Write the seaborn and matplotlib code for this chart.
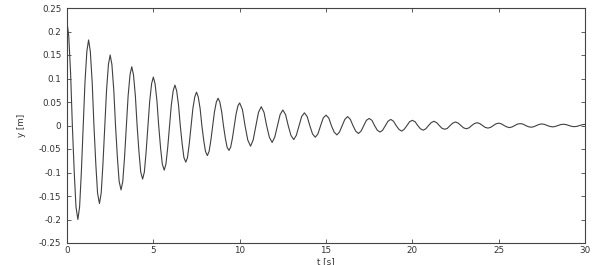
import matplotlib
matplotlib.use("Agg")
import matplotlib.pyplot as plt
import seaborn as sns
import pandas as pd

# time samples [s]
t_early = [
    0.00, 0.10, 0.21, 0.31, 0.42, 0.52,
    0.63, 0.73, 0.83, 0.94, 1.04, 1.15,
    1.25, 1.35, 1.46, 1.56, 1.67, 1.77,
    1.88, 1.98, 2.08, 2.19, 2.29, 2.40,
    2.50, 2.60, 2.71, 2.81, 2.92, 3.02,
    3.13, 3.23, 3.33, 3.44, 3.54, 3.65,
    3.75, 3.85, 3.96, 4.06, 4.17, 4.27,
    4.38, 4.48, 4.58, 4.69, 4.79, 4.90,
    5.00, 5.10, 5.21, 5.31, 5.42, 5.52,
    5.63, 5.73, 5.83, 5.94, 6.04, 6.15,
    6.25, 6.35, 6.46, 6.56, 6.67, 6.77,
    6.88, 6.98, 7.08, 7.19, 7.29, 7.40,
    7.50, 7.60, 7.71, 7.81, 7.92, 8.02,
    8.13, 8.23, 8.33, 8.44, 8.54, 8.65,
    8.75, 8.85, 8.96, 9.06, 9.17, 9.27,
    9.38, 9.48, 9.58, 9.69, 9.79, 9.90,
]
y_early = [
    0.220, 0.191, 0.110, 0.0, -0.100, -0.173,
    -0.200, -0.173, -0.100, 0.0, 0.091, 0.158,
    0.182, 0.158, 0.091, 0.0, -0.083, -0.144,
    -0.166, -0.144, -0.083, 0.0, 0.075, 0.130,
    0.150, 0.130, 0.075, 0.0, -0.069, -0.119,
    -0.137, -0.119, -0.069, 0.0, 0.063, 0.108,
    0.125, 0.108, 0.063, 0.0, -0.057, -0.099,
    -0.114, -0.099, -0.057, 0.0, 0.052, 0.089,
    0.103, 0.089, 0.052, 0.0, -0.048, -0.082,
    -0.095, -0.082, -0.048, 0.0, 0.043, 0.074,
    0.086, 0.074, 0.043, 0.0, -0.039, -0.068,
    -0.078, -0.068, -0.039, 0.0, 0.036, 0.061,
    0.071, 0.061, 0.036, 0.0, -0.032, -0.055,
    -0.064, -0.055, -0.032, 0.0, 0.029, 0.050,
    0.058, 0.050, 0.029, 0.0, -0.027, -0.046,
    -0.053, -0.046, -0.027, 0.0, 0.024, 0.042,
]
t_late = [
    10.00, 10.16, 10.31, 10.47,
    10.63, 10.78, 10.94, 11.09,
    11.25, 11.41, 11.56, 11.72,
    11.88, 12.03, 12.19, 12.34,
    12.50, 12.66, 12.81, 12.97,
    13.13, 13.28, 13.44, 13.59,
    13.75, 13.91, 14.06, 14.22,
    14.38, 14.53, 14.69, 14.84,
    15.00, 15.16, 15.31, 15.47,
    15.63, 15.78, 15.94, 16.09,
    16.25, 16.41, 16.56, 16.72,
    16.88, 17.03, 17.19, 17.34,
    17.50, 17.66, 17.81, 17.97,
    18.13, 18.28, 18.44, 18.59,
    18.75, 18.91, 19.06, 19.22,
    19.38, 19.53, 19.69, 19.84,
    20.00, 20.16, 20.31, 20.47,
    20.63, 20.78, 20.94, 21.09,
    21.25, 21.41, 21.56, 21.72,
    21.88, 22.03, 22.19, 22.34,
    22.50, 22.66, 22.81, 22.97,
    23.13, 23.28, 23.44, 23.59,
    23.75, 23.91, 24.06, 24.22,
    24.38, 24.53, 24.69, 24.84,
    25.00, 25.16, 25.31, 25.47,
    25.63, 25.78, 25.94, 26.09,
    26.25, 26.41, 26.56, 26.72,
    26.88, 27.03, 27.19, 27.34,
    27.50, 27.66, 27.81, 27.97,
    28.13, 28.28, 28.44, 28.59,
    28.75, 28.91, 29.06, 29.22,
    29.38, 29.53, 29.69, 29.84,
    30.00,
]
y_late = [
    0.048, 0.034, 0.0, -0.031,
    -0.044, -0.031, 0.0, 0.028,
    0.040, 0.028, 0.0, -0.025,
    -0.036, -0.025, 0.0, 0.023,
    0.033, 0.023, 0.0, -0.021,
    -0.030, -0.021, 0.0, 0.019,
    0.027, 0.019, 0.0, -0.018,
    -0.025, -0.018, 0.0, 0.016,
    0.022, 0.016, 0.0, -0.014,
    -0.020, -0.014, 0.0, 0.013,
    0.019, 0.013, 0.0, -0.012,
    -0.017, -0.012, 0.0, 0.011,
    0.015, 0.011, 0.0, -0.010,
    -0.014, -0.010, 0.0, 0.009,
    0.013, 0.009, 0.0, -0.008,
    -0.012, -0.008, 0.0, 0.008,
    0.011, 0.008, 0.0, -0.007,
    -0.010, -0.007, 0.0, 0.006,
    0.009, 0.006, 0.0, -0.006,
    -0.008, -0.006, 0.0, 0.005,
    0.0075, 0.005, 0.0, -0.005,
    -0.007, -0.005, 0.0, 0.004,
    0.006, 0.004, 0.0, -0.004,
    -0.0055, -0.004, 0.0, 0.0035,
    0.005, 0.0035, 0.0, -0.003,
    -0.0045, -0.003, 0.0, 0.003,
    0.004, 0.003, 0.0, -0.0026,
    -0.0037, -0.0026, 0.0, 0.0023,
    0.0033, 0.0023, 0.0, -0.002,
    -0.003, -0.002, 0.0, 0.0019,
    0.0027, 0.0019, 0.0, -0.0018,
    -0.0025, -0.0018, 0.0, 0.0016,
    0.0023,
]

x_ticks = [0, 5, 10, 15, 20, 25, 30]
y_ticks = [-0.25, -0.2, -0.15, -0.1, -0.05, 0, 0.05, 0.1, 0.15, 0.2, 0.25]
y_tick_labels = ["-0.25", "-0.2", "-0.15", "-0.1", "-0.05", "0",
                 "0.05", "0.1", "0.15", "0.2", "0.25"]

df = pd.DataFrame({"t": t_early + t_late, "y": y_early + y_late})

sns.set_theme(style="ticks")
plt.rcParams["font.family"] = ["DejaVu Sans"]

fig = plt.figure(figsize=(6.05, 2.65), dpi=100)
ax = fig.add_axes([67 / 605, 1 - 243 / 265, (585 - 67) / 605, (243 - 8) / 265])

sns.lineplot(data=df, x="t", y="y", ax=ax, color="#404040", linewidth=0.8,
             sort=False, estimator=None)

ax.set_xlim(0, 30)
ax.set_ylim(-0.25, 0.25)
ax.set_xticks(x_ticks)
ax.set_xticklabels([str(v) for v in x_ticks])
ax.set_yticks(y_ticks)
ax.set_yticklabels(y_tick_labels)
ax.tick_params(direction="in", length=3, width=0.6, color="#444444",
               labelsize=6.3, labelcolor="#333333", top=True, right=True)
ax.tick_params(axis="y", pad=4)
ax.tick_params(axis="x", pad=2.5)
for s in ax.spines.values():
    s.set_visible(True)
    s.set_linewidth(0.8)
    s.set_color("#444444")
ax.set_xlabel("t [s]", fontsize=6.3, color="#333333")
ax.xaxis.set_label_coords(0.5, -0.058)
ax.set_ylabel("y [m]", fontsize=6.3, color="#333333", labelpad=9)

fig.savefig("out.png", dpi=100)
